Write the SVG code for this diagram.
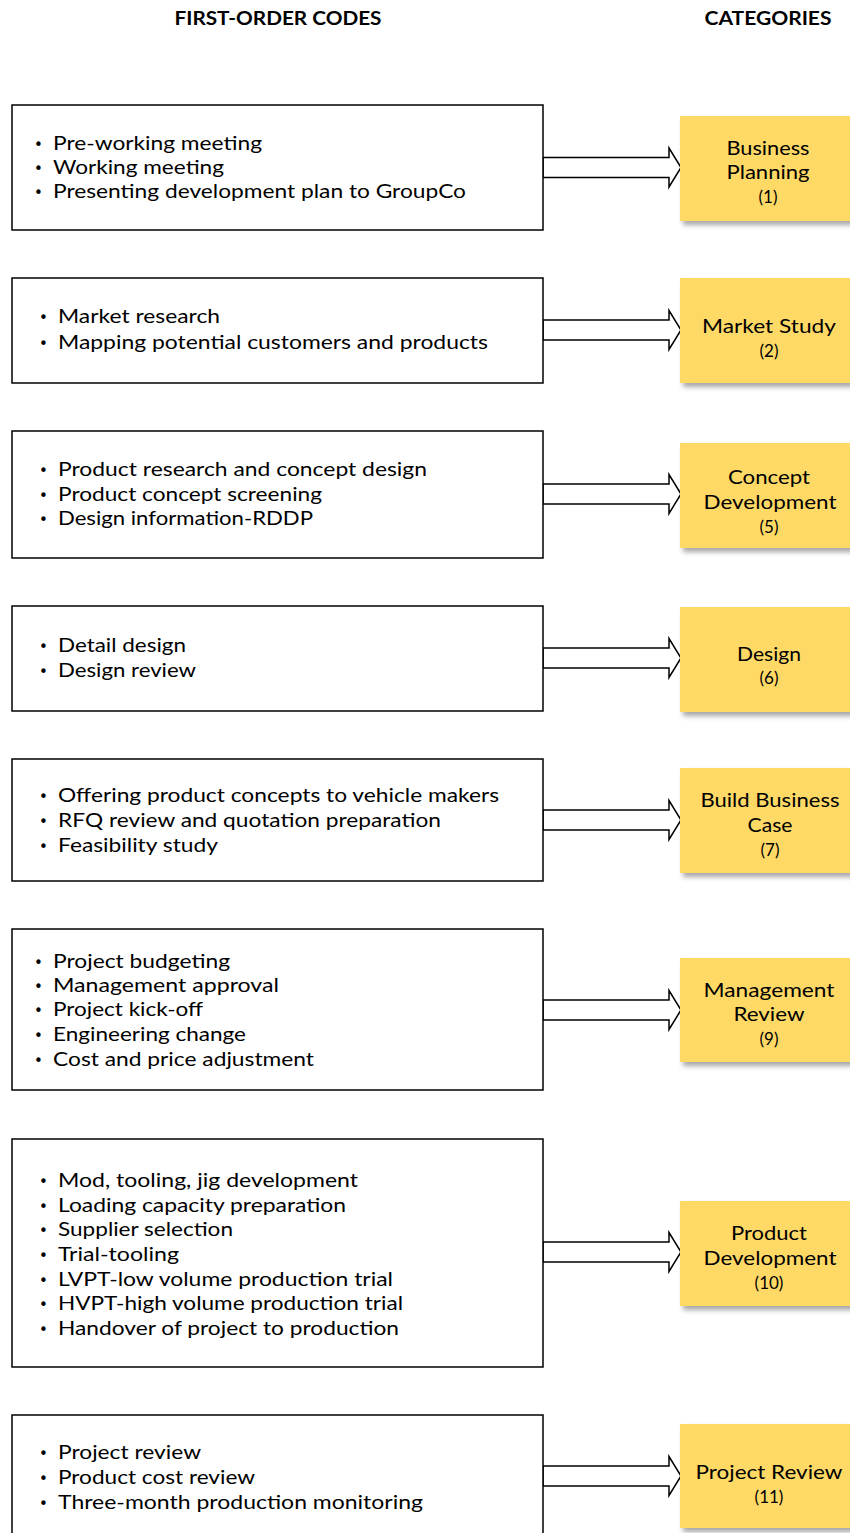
<svg xmlns="http://www.w3.org/2000/svg" width="850" height="1533" viewBox="0 0 850 1533">
  <defs>
    <style>
      .hdr { font-family: Lato, "Liberation Sans", sans-serif; font-weight: bold; font-size: 19px; fill: #000; text-anchor: middle; }
      .code { fill: #fff; stroke: #000; stroke-width: 1.5; }
      .item { font-family: Lato, "Liberation Sans", sans-serif; font-size: 20px; fill: #000; }
      .dot { font-family: "DejaVu Sans", sans-serif; font-size: 15px; fill: #000; }
      .cat { fill: #FFD966; filter: url(#shadow); }
      .cname { font-family: Lato, "Liberation Sans", sans-serif; font-size: 20px; fill: #000; text-anchor: middle; }
      .cnum { font-family: Lato, "Liberation Sans", sans-serif; font-size: 17px; fill: #000; text-anchor: middle; }
      .arrow { fill: #fff; stroke: #000; stroke-width: 1.5; stroke-linejoin: miter; }
    </style>
    <filter id="shadow" x="-10%" y="-10%" width="130%" height="130%">
      <feDropShadow dx="3" dy="4" stdDeviation="2.5" flood-color="#000" flood-opacity="0.35"/>
    </filter>
    <!-- block arrow, tip at (0,0), pointing right -->
    <path id="blockArrow" d="M -138 -10 L -12 -10 L -12 -19.5 L 0 0 L -12 19.5 L -12 10 L -138 10 Z"/>
  </defs>

  <!-- column headings -->
  <text class="hdr" x="278" y="25" textLength="207" lengthAdjust="spacingAndGlyphs">FIRST-ORDER CODES</text>
  <text class="hdr" x="768" y="25" textLength="127" lengthAdjust="spacingAndGlyphs">CATEGORIES</text>

  <!-- connectors: block arrows from each code box to its category -->
  <g id="connectors">
    <use href="#blockArrow" class="arrow" x="681" y="167.5"/>
    <use href="#blockArrow" class="arrow" x="681" y="330"/>
    <use href="#blockArrow" class="arrow" x="681" y="494"/>
    <use href="#blockArrow" class="arrow" x="681" y="658"/>
    <use href="#blockArrow" class="arrow" x="681" y="820"/>
    <use href="#blockArrow" class="arrow" x="681" y="1010"/>
    <use href="#blockArrow" class="arrow" x="681" y="1252"/>
    <use href="#blockArrow" class="arrow" x="681" y="1476"/>
  </g>

  <!-- first-order code boxes -->
  <g id="codes1">
    <rect class="code" x="12" y="105" width="531" height="125"/>
    <text class="dot" x="34" y="150">•</text>
    <text class="item" x="53" y="150" textLength="209" lengthAdjust="spacingAndGlyphs">Pre-working meeting</text>
    <text class="dot" x="34" y="174">•</text>
    <text class="item" x="53" y="174" textLength="171" lengthAdjust="spacingAndGlyphs">Working meeting</text>
    <text class="dot" x="34" y="198">•</text>
    <text class="item" x="53" y="198" textLength="413" lengthAdjust="spacingAndGlyphs">Presenting development plan to GroupCo</text>
  </g>

  <g id="codes2">
    <rect class="code" x="12" y="278" width="531" height="105"/>
    <text class="dot" x="39" y="323">•</text>
    <text class="item" x="58" y="323" textLength="162" lengthAdjust="spacingAndGlyphs">Market research</text>
    <text class="dot" x="39" y="349">•</text>
    <text class="item" x="58" y="349" textLength="430" lengthAdjust="spacingAndGlyphs">Mapping potential customers and products</text>
  </g>

  <g id="codes3">
    <rect class="code" x="12" y="431" width="531" height="127"/>
    <text class="dot" x="39" y="476">•</text>
    <text class="item" x="58" y="476" textLength="369" lengthAdjust="spacingAndGlyphs">Product research and concept design</text>
    <text class="dot" x="39" y="501">•</text>
    <text class="item" x="58" y="501" textLength="264" lengthAdjust="spacingAndGlyphs">Product concept screening</text>
    <text class="dot" x="39" y="525">•</text>
    <text class="item" x="58" y="525" textLength="255" lengthAdjust="spacingAndGlyphs">Design information-RDDP</text>
  </g>

  <g id="codes4">
    <rect class="code" x="12" y="606" width="531" height="105"/>
    <text class="dot" x="39" y="652">•</text>
    <text class="item" x="58" y="652" textLength="128" lengthAdjust="spacingAndGlyphs">Detail design</text>
    <text class="dot" x="39" y="677">•</text>
    <text class="item" x="58" y="677" textLength="138" lengthAdjust="spacingAndGlyphs">Design review</text>
  </g>

  <g id="codes5">
    <rect class="code" x="12" y="759" width="531" height="122"/>
    <text class="dot" x="39" y="802">•</text>
    <text class="item" x="58" y="802" textLength="441" lengthAdjust="spacingAndGlyphs">Offering product concepts to vehicle makers</text>
    <text class="dot" x="39" y="827">•</text>
    <text class="item" x="58" y="827" textLength="383" lengthAdjust="spacingAndGlyphs">RFQ review and quotation preparation</text>
    <text class="dot" x="39" y="852">•</text>
    <text class="item" x="58" y="852" textLength="160" lengthAdjust="spacingAndGlyphs">Feasibility study</text>
  </g>

  <g id="codes6">
    <rect class="code" x="12" y="929" width="531" height="161"/>
    <text class="dot" x="34" y="968">•</text>
    <text class="item" x="53" y="968" textLength="177" lengthAdjust="spacingAndGlyphs">Project budgeting</text>
    <text class="dot" x="34" y="992">•</text>
    <text class="item" x="53" y="992" textLength="226" lengthAdjust="spacingAndGlyphs">Management approval</text>
    <text class="dot" x="34" y="1016">•</text>
    <text class="item" x="53" y="1016" textLength="150" lengthAdjust="spacingAndGlyphs">Project kick-off</text>
    <text class="dot" x="34" y="1041">•</text>
    <text class="item" x="53" y="1041" textLength="193" lengthAdjust="spacingAndGlyphs">Engineering change</text>
    <text class="dot" x="34" y="1066">•</text>
    <text class="item" x="53" y="1066" textLength="261" lengthAdjust="spacingAndGlyphs">Cost and price adjustment</text>
  </g>

  <g id="codes7">
    <rect class="code" x="12" y="1139" width="531" height="228"/>
    <text class="dot" x="39" y="1187">•</text>
    <text class="item" x="58" y="1187" textLength="300" lengthAdjust="spacingAndGlyphs">Mod, tooling, jig development</text>
    <text class="dot" x="39" y="1212">•</text>
    <text class="item" x="58" y="1212" textLength="288" lengthAdjust="spacingAndGlyphs">Loading capacity preparation</text>
    <text class="dot" x="39" y="1236">•</text>
    <text class="item" x="58" y="1236" textLength="175" lengthAdjust="spacingAndGlyphs">Supplier selection</text>
    <text class="dot" x="39" y="1261">•</text>
    <text class="item" x="58" y="1261" textLength="121" lengthAdjust="spacingAndGlyphs">Trial-tooling</text>
    <text class="dot" x="39" y="1286">•</text>
    <text class="item" x="58" y="1286" textLength="335" lengthAdjust="spacingAndGlyphs">LVPT-low volume production trial</text>
    <text class="dot" x="39" y="1310">•</text>
    <text class="item" x="58" y="1310" textLength="345" lengthAdjust="spacingAndGlyphs">HVPT-high volume production trial</text>
    <text class="dot" x="39" y="1335">•</text>
    <text class="item" x="58" y="1335" textLength="341" lengthAdjust="spacingAndGlyphs">Handover of project to production</text>
  </g>

  <g id="codes8">
    <rect class="code" x="12" y="1415" width="531" height="130"/>
    <text class="dot" x="39" y="1459">•</text>
    <text class="item" x="58" y="1459" textLength="143" lengthAdjust="spacingAndGlyphs">Project review</text>
    <text class="dot" x="39" y="1484">•</text>
    <text class="item" x="58" y="1484" textLength="197" lengthAdjust="spacingAndGlyphs">Product cost review</text>
    <text class="dot" x="39" y="1509">•</text>
    <text class="item" x="58" y="1509" textLength="365" lengthAdjust="spacingAndGlyphs">Three-month production monitoring</text>
  </g>

  <!-- category boxes -->
  <g id="cat1">
    <rect class="cat" x="680" y="116" width="175" height="105"/>
    <text class="cname" x="768" y="155" textLength="83" lengthAdjust="spacingAndGlyphs">Business</text>
    <text class="cname" x="768" y="179" textLength="83" lengthAdjust="spacingAndGlyphs">Planning</text>
    <text class="cnum" x="768" y="203">(1)</text>
  </g>
  <g id="cat2">
    <rect class="cat" x="680" y="278" width="175" height="105"/>
    <text class="cname" x="769" y="333" textLength="134" lengthAdjust="spacingAndGlyphs">Market Study</text>
    <text class="cnum" x="769" y="357">(2)</text>
  </g>
  <g id="cat3">
    <rect class="cat" x="680" y="443" width="175" height="105"/>
    <text class="cname" x="769" y="484" textLength="82" lengthAdjust="spacingAndGlyphs">Concept</text>
    <text class="cname" x="770" y="509" textLength="133" lengthAdjust="spacingAndGlyphs">Development</text>
    <text class="cnum" x="769" y="533">(5)</text>
  </g>
  <g id="cat4">
    <rect class="cat" x="680" y="607" width="175" height="105"/>
    <text class="cname" x="769" y="661" textLength="64" lengthAdjust="spacingAndGlyphs">Design</text>
    <text class="cnum" x="769" y="684">(6)</text>
  </g>
  <g id="cat5">
    <rect class="cat" x="680" y="768" width="175" height="105"/>
    <text class="cname" x="770" y="807" textLength="139" lengthAdjust="spacingAndGlyphs">Build Business</text>
    <text class="cname" x="770" y="832" textLength="45" lengthAdjust="spacingAndGlyphs">Case</text>
    <text class="cnum" x="770" y="856">(7)</text>
  </g>
  <g id="cat6">
    <rect class="cat" x="680" y="958" width="175" height="104"/>
    <text class="cname" x="769" y="997" textLength="131" lengthAdjust="spacingAndGlyphs">Management</text>
    <text class="cname" x="769" y="1021" textLength="71" lengthAdjust="spacingAndGlyphs">Review</text>
    <text class="cnum" x="769" y="1045">(9)</text>
  </g>
  <g id="cat7">
    <rect class="cat" x="680" y="1201" width="175" height="105"/>
    <text class="cname" x="769" y="1240" textLength="76" lengthAdjust="spacingAndGlyphs">Product</text>
    <text class="cname" x="770" y="1265" textLength="133" lengthAdjust="spacingAndGlyphs">Development</text>
    <text class="cnum" x="769" y="1289">(10)</text>
  </g>
  <g id="cat8">
    <rect class="cat" x="680" y="1424" width="175" height="104"/>
    <text class="cname" x="769" y="1479" textLength="147" lengthAdjust="spacingAndGlyphs">Project Review</text>
    <text class="cnum" x="769" y="1503">(11)</text>
  </g>
</svg>
